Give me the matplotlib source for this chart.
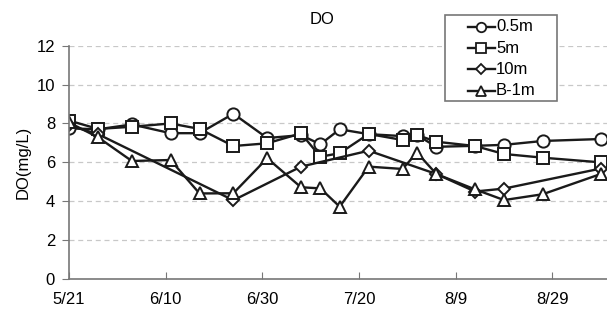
import matplotlib
matplotlib.use("Agg")
import matplotlib.pyplot as plt
from matplotlib.lines import Line2D
from matplotlib.patches import Rectangle
import pandas as pd

plt.rcParams["font.family"] = ["Liberation Sans", "DejaVu Sans"]

YEAR = "2008"

sample_dates = ["5/21", "5/27", "6/3", "6/11", "6/17", "6/24", "7/1", "7/8", "7/12",
                "7/16", "7/22", "7/29", "8/1", "8/5", "8/13", "8/19", "8/27", "9/8"]

do_05m = [7.75, 7.7, 7.95, 7.5, 7.5, 8.5, 7.25, 7.4, 6.93, 7.7, 7.45, 7.35, 7.4,
          6.8, 6.85, 6.9, 7.1, 7.2]
do_5m = [8.15, 7.72, 7.83, 8.0, 7.72, 6.84, 6.98, 7.49, 6.29, 6.47, 7.46, 7.15, 7.41,
         7.06, 6.84, 6.43, 6.24, 6.0]
do_10m = [7.9, 7.45, None, None, None, 4.05, None, 5.78, None, None, 6.6, None, None,
          5.4, 4.5, 4.65, None, 5.68]
do_b1m = [8.05, 7.29, 6.07, 6.12, 4.4, 4.41, 6.21, 4.72, 4.66, 3.72, 5.78, 5.66, 6.5,
          5.4, 4.61, 4.06, 4.36, 5.4]

series_labels = ["0.5m", "5m", "10m", "B-1m"]
tick_labels = ["5/21", "6/10", "6/30", "7/20", "8/9", "8/29"]
y_ticks = [0, 2, 4, 6, 8, 10, 12]


def to_dates(labels):
    return pd.to_datetime([f"{YEAR}/{s}" for s in labels], format="%Y/%m/%d")


dates = to_dates(sample_dates)
ticks = to_dates(tick_labels)

W, H = 607, 311
fig = plt.figure(figsize=(W / 100, H / 100), dpi=100)
ax = fig.add_axes([69 / W, 1 - 279 / H, 1 - 69 / W, (279 - 45.7) / H])

ink = "#1a1a1a"
markers = ["o", "s", "D", "^"]
msizes = [8.8, 8.5, 6.3, 9.3]
for vals, lab, mk, ms in zip([do_05m, do_5m, do_10m, do_b1m], series_labels, markers, msizes):
    v = pd.Series(vals, dtype=float)
    mask = v.notna().to_numpy()
    ax.plot(dates[mask], v[mask], color=ink, linewidth=1.7, marker=mk, markersize=ms,
            markerfacecolor="white", markeredgecolor=ink,
            markeredgewidth=1.4, label=lab)

ax.set_xlim(dates[0], dates[0] + pd.Timedelta(days=111.3))
ax.set_ylim(0, 12)
ax.set_xticks(ticks)
ax.set_xticklabels(tick_labels)
ax.set_yticks(y_ticks)

for y in y_ticks[1:]:
    ax.axhline(y, color="#c8c8c8", linestyle=(0, (4, 3)), linewidth=0.9, zorder=0)

for s in ["top", "right"]:
    ax.spines[s].set_visible(False)
for s in ["left", "bottom"]:
    ax.spines[s].set_color("#777777")
    ax.spines[s].set_linewidth(1.2)

ax.tick_params(axis="x", direction="in", length=5, color="#777777", labelsize=12, pad=9)
ax.tick_params(axis="y", direction="out", length=5, color="#777777", labelsize=12, pad=5)

ax.set_ylabel("DO(mg/L)", fontsize=12, labelpad=4)
fig.text(322 / W, 1 - 19.5 / H, "DO", ha="center", va="center", fontsize=12)

# legend drawn by hand in figure pixels to match the reference box
box = Rectangle((445 / W, 1 - 100.7 / H), (557 - 445) / W, (100.7 - 15) / H,
                transform=fig.transFigure, facecolor="white", edgecolor="#777777",
                linewidth=1.2, zorder=4)
fig.patches.append(box)
row_y = [26.7, 48.3, 69.3, 90.7]
leg_ms = [6.8, 6.5, 5.0, 7.2]
for yy, lab, mk, ms in zip(row_y, series_labels, markers, leg_ms):
    fy = 1 - yy / H
    fig.lines.append(Line2D([467.5 / W, 495 / W], [fy, fy], transform=fig.transFigure,
                            color=ink, linewidth=1.7, zorder=5))
    fig.lines.append(Line2D([481.3 / W], [fy], transform=fig.transFigure, marker=mk,
                            markersize=ms, markerfacecolor="white", markeredgecolor=ink,
                            markeredgewidth=1.3, linestyle="none", zorder=6))
    fig.text(496 / W, fy, lab, ha="left", va="center", fontsize=12, zorder=6)

fig.savefig("out.png", dpi=100)
